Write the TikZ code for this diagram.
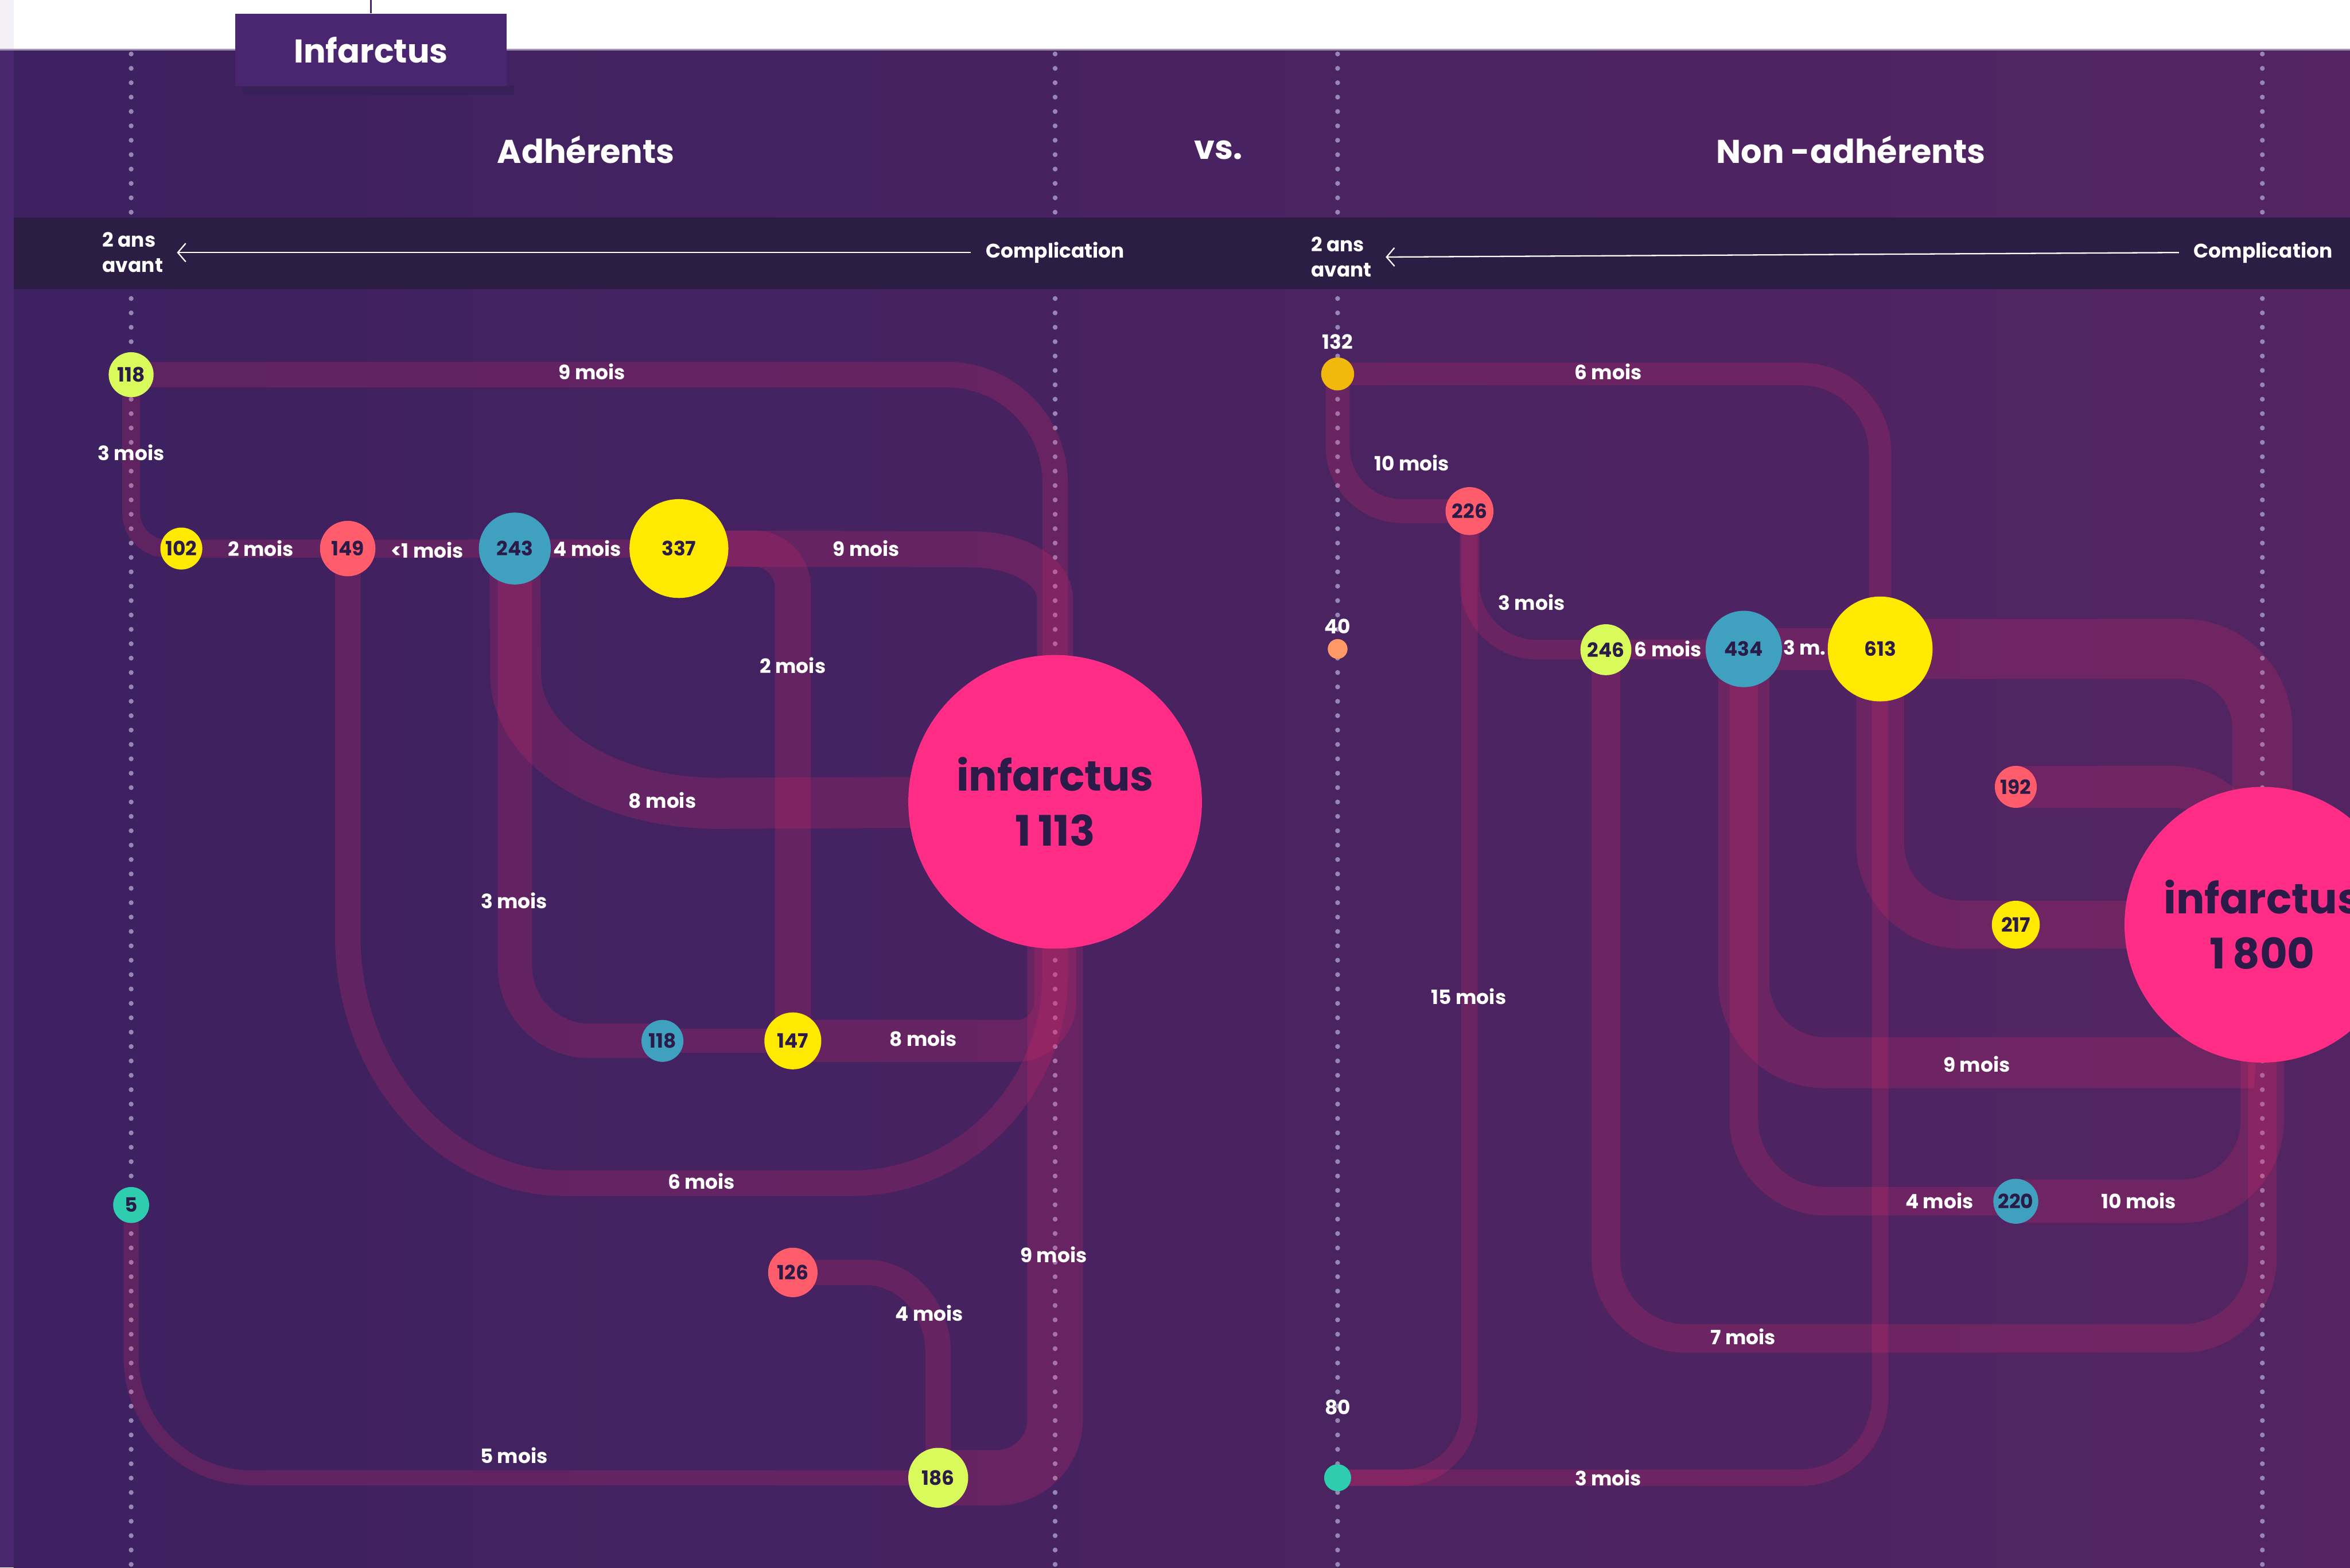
\documentclass[tikz,border=0pt]{standalone}
\usepackage{fontspec}
\setmainfont{Poppins}
\usetikzlibrary{arrows.meta}
\pgfdeclarelayer{bg}
\pgfdeclarelayer{trk}
\pgfsetlayers{bg,trk,main}
\definecolor{bgL}{RGB}{61,33,96}
\definecolor{bgR}{RGB}{84,36,98}
\definecolor{bandc}{RGB}{44,29,69}
\definecolor{tabc}{RGB}{74,37,112}
\definecolor{tabsh}{RGB}{56,32,88}
\definecolor{stripc}{RGB}{74,40,112}
\definecolor{stripT}{RGB}{243,240,246}
\definecolor{topln}{RGB}{165,150,185}
\definecolor{trkc}{RGB}{232,43,106}
\definecolor{dotc}{RGB}{150,134,180}
\definecolor{limec}{RGB}{216,250,90}
\definecolor{yelc}{RGB}{255,234,0}
\definecolor{coralc}{RGB}{255,92,108}
\definecolor{tealc}{RGB}{64,160,192}
\definecolor{mintc}{RGB}{46,205,176}
\definecolor{amberc}{RGB}{240,185,11}
\definecolor{peachc}{RGB}{255,153,102}
\definecolor{pinkc}{RGB}{255,45,133}
\definecolor{ink}{RGB}{42,27,72}
\tikzset{
  stn/.style 2 args={circle, fill=#1, minimum size=#2*0.04cm, inner sep=0pt, text=ink, font=\fontsize{7.5}{9}\selectfont\bfseries},
  bigc/.style={circle, fill=pinkc, minimum size=#1*0.04cm, inner sep=0pt, text=ink, align=center, font=\fontsize{16}{21}\selectfont\bfseries},
  trk/.style={draw=trkc, draw opacity=0.2, line width=#1*0.02cm},
  lbl/.style={text=white, inner sep=0pt, font=\fontsize{7.5}{9}\selectfont\bfseries},
  head/.style={text=white, inner sep=0pt, font=\fontsize{12.5}{15}\selectfont\bfseries},
  bandtxt/.style={text=white, inner sep=0pt, font=\fontsize{7.5}{9.6}\selectfont\bfseries},
  dotln/.style={draw=dotc, line width=0.065cm, line cap=round, dash pattern=on 0pt off 0.192cm},
  axisarr/.style={draw=white, line width=0.5pt, -{Straight Barb[length=3pt,width=7pt]}},
  tabbox/.style={fill=tabc, text=white, minimum width=3.62cm, minimum height=0.97cm, inner sep=0pt, font=\fontsize{12.5}{15}\selectfont\bfseries}
}
\begin{document}
\begin{tikzpicture}[x=0.02cm, y=-0.02cm]
\useasboundingbox (0,0) rectangle (1568,1046);
\begin{pgfonlayer}{bg}
\fill[white] (0,0) rectangle (1568,1046);
\fill[stripT] (0,0) rectangle (9,33);
\shade[left color=bgL, right color=bgR] (9,33) rectangle (1568,1046);
\fill[stripc] (0,33) rectangle (9,1046);
\draw[topln, line width=0.6pt] (0,33) -- (1568,33);
\foreach \xx in {87.5,704,892.5,1509.5} \draw[dotln] (\xx,36) -- (\xx,1046);
\fill[bandc] (9,145) rectangle (1568,193);
\end{pgfonlayer}

% tab
\fill[tabsh] (162,57) rectangle (343,63);
\node[tabbox] (tab) at (247.5,33.25) {Infarctus};
\coordinate (tabtop) at (247.5,0);
\draw[tabc, line width=0.6pt] (tabtop) -- (tab.north);

% headings
\node[head] (hA) at (391,100) {Adhérents};
\node[head] (hV) at (813,100) {vs.};
\node[head] (hN) at (1235,100) {Non -adhérents};

% band
\node[bandtxt, anchor=west, align=left] (ansL) at (68,168.5) {2 ans\\avant};
\node[bandtxt] (compL) at (704,168.5) {Complication};
\draw[axisarr] ([xshift=-0.19cm]compL.west) -- ([xshift=0.18cm]ansL.east);
\node[bandtxt, anchor=west, align=left] (ansR) at (874.5,171.5) {2 ans\\avant};
\node[bandtxt] (compR) at (1510,168.5) {Complication};
\draw[axisarr] ([xshift=-0.19cm]compR.west) -- ([xshift=0.18cm]ansR.east);

% ---------- left panel nodes
\node[stn={limec}{15}] (n118a) at (87.5,250) {118};
\node[stn={yelc}{14}] (n102) at (121,366) {102};
\node[stn={coralc}{18.5}] (n149) at (232,366) {149};
\node[stn={tealc}{24}] (n243) at (343.5,366) {243};
\node[stn={yelc}{33}] (n337) at (453,366) {337};
\node[bigc=98] (infL) at (704,535) {infarctus\\1\,113};
\node[stn={tealc}{14}] (n118b) at (442,694.5) {118};
\node[stn={yelc}{19}] (n147) at (529,694.5) {147};
\node[stn={mintc}{12}] (n5) at (87.5,804) {5};
\node[stn={coralc}{16.5}] (n126) at (529,849) {126};
\node[stn={limec}{20}] (n186) at (626,986) {186};

% ---------- right panel nodes
\node[stn={amberc}{11}] (n132) at (892.5,249.5) {};
\node[lbl] (t132) at (892.5,228) {132};
\node[stn={coralc}{16}] (n226) at (980.5,341) {226};
\node[stn={peachc}{6.6}] (n40) at (892.5,433) {};
\node[lbl] (t40) at (892.5,418) {40};
\node[stn={limec}{17}] (n246) at (1071.5,433.5) {246};
\node[stn={tealc}{25.5}] (n434) at (1163.5,433) {434};
\node[stn={yelc}{35}] (n613) at (1254.5,433) {613};
\node[stn={coralc}{14}] (n192) at (1345,525) {192};
\node[stn={yelc}{16}] (n217) at (1345,617) {217};
\node[bigc=92] (infR) at (1509.5,617) {infarctus\\1\,800};
\node[stn={tealc}{15}] (n220) at (1345,801.5) {220};
\node[stn={mintc}{9}] (n80) at (892.5,986) {};
\node[lbl] (t80) at (892.5,939) {80};

% ---------- tracks
\begin{pgfonlayer}{trk}
% left
\draw[trk=17, rounded corners=1.44cm] (n118a.center) -| (infL.center);
\draw[trk=12, rounded corners=0.48cm] (n118a.center) |- (n337.center);
\draw[trk=24] (n337.center) -- (648,366.5) .. controls (679,366.5) and (704,381) .. (704,400) -- (infL.center);
\draw[trk=24, rounded corners=0.52cm] (n337.center) -| (n147.center);
\draw[trk=17] (n149.center) -- (232,624) .. controls (232,715) and (297,789.5) .. (377,789.5) -- (568,789.5) .. controls (643,789.5) and (704,727) .. (704,650) -- (infL.center);
\draw[trk=23, rounded corners=1.0cm] (n243.center) |- (n118b.center);
\draw[trk=16] (n118b.center) -- (n147.center);
\draw[trk=34] (n243.center) -- (344,450) .. controls (344,498) and (404.5,536) .. (479,536) -- (infL.center);
\draw[trk=28, rounded corners=0.52cm] (n147.center) -| (infL.center);
\draw[trk=37, rounded corners=0.78cm] (n186.center) -| (infL.center);
\draw[trk=17] (n126.center) -- (578,849) .. controls (604.5,849) and (626,873) .. (626,903) -- (n186.center);
\draw[trk=10, rounded corners=1.6cm] (n5.center) |- (n186.center);
% right
\draw[trk=15, rounded corners=1.06cm] (n132.center) -| (n613.center);
\draw[trk=16, rounded corners=0.86cm] (n132.center) |- (n226.center);
\draw[trk=13, rounded corners=0.9cm] (n226.center) |- (n246.center);
\draw[trk=13] (n246.center) -- (n434.center);
\draw[trk=28] (n434.center) -- (n613.center);
\draw[trk=40, rounded corners=1.06cm] (n613.center) -| (infR.center);
\draw[trk=32, rounded corners=1.08cm] (n613.center) |- (infR.center);
\draw[trk=28] (n192.center) -- (1450,525) to[out=0,in=90] (infR.center);
\draw[trk=34, rounded corners=1.08cm] (n434.center) |- (1450,709) to[out=0,in=-90] (infR.center);
\draw[trk=19, rounded corners=1.1cm] (n434.center) |- (n220.center);
\draw[trk=29, rounded corners=1.08cm] (n220.center) -| (infR.center);
\draw[trk=19, rounded corners=1.06cm] (n246.center) |- (1509.5,893) -- (infR.center);
\draw[trk=11, rounded corners=1.08cm] (n80.center) -| (n613.center);
\draw[trk=11, rounded corners=0.9cm] (n226.center) |- (n80.center);
\end{pgfonlayer}

% ---------- labels left
\node[lbl] (a1) at (395,248) {9 mois};
\node[lbl] (a2) at (87.5,302) {3 mois};
\node[lbl] (a3) at (174,366) {2 mois};
\node[lbl] (a4) at (285,367) {<1 mois};
\node[lbl] (a5) at (392,366) {4 mois};
\node[lbl] (a6) at (578,366) {9 mois};
\node[lbl] (a7) at (529,444) {2 mois};
\node[lbl] (a8) at (442,534) {8 mois};
\node[lbl] (a9) at (343,601) {3 mois};
\node[lbl] (a10) at (616,693) {8 mois};
\node[lbl] (a11) at (468,788) {6 mois};
\node[lbl] (a12) at (703,837) {9 mois};
\node[lbl] (a13) at (620,876) {4 mois};
\node[lbl] (a14) at (343,971) {5 mois};
% ---------- labels right
\node[lbl] (b1) at (1073,248) {6 mois};
\node[lbl] (b2) at (942,309) {10 mois};
\node[lbl] (b3) at (1022,402) {3 mois};
\node[lbl] (b4) at (1113,433) {6 mois};
\node[lbl] (b5) at (1204,432) {3 m.};
\node[lbl] (b6) at (980,665) {15 mois};
\node[lbl] (b7) at (1319,710) {9 mois};
\node[lbl] (b8) at (1294,801) {4 mois};
\node[lbl] (b9) at (1427,801) {10 mois};
\node[lbl] (b10) at (1163,892) {7 mois};
\node[lbl] (b11) at (1073,986) {3 mois};
\end{tikzpicture}
\end{document}
